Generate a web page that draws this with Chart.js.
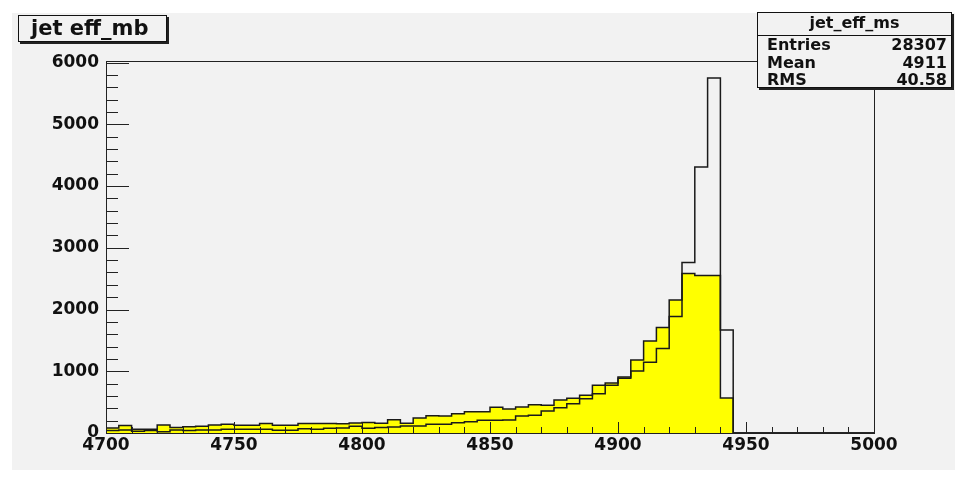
<!DOCTYPE html>
<html>
<head>
<meta charset="utf-8">
<script src="https://cdn.jsdelivr.net/npm/chart.js@4.4.0/dist/chart.umd.min.js"></script>
<style>
  body { margin: 0; background: #fff; }
  #pad { position: absolute; left: 12px; top: 13px; width: 943px; height: 457px; background: #f2f2f2; }
  #c { position: absolute; left: 0; top: 0; }
  .box { position: absolute; box-sizing: border-box; background: #f2f2f2; border: 1px solid #111;
         box-shadow: 2px 2px 0 #222; font-family: "DejaVu Sans", sans-serif; font-weight: bold; color: #111; }
  #title { left: 18px; top: 15px; width: 149px; height: 27px; font-size: 21px; line-height: 24px; padding-left: 12px; }
  #stats { left: 757px; top: 12px; width: 195px; height: 76px; font-size: 16px; }
  #stats .head { height: 22px; line-height: 19px; text-align: center; border-bottom: 1px solid #111; }
  #stats .row { height: 17.7px; line-height: 17px; padding: 0 4px 0 9px; display: flex; justify-content: space-between; }
</style>
</head>
<body>
<div id="pad"></div>
<canvas id="c" width="961" height="477"></canvas>
<div class="box" id="title">jet eff_mb</div>
<div class="box" id="stats">
  <div class="head">jet_eff_ms</div>
  <div class="row"><span>Entries</span><span>28307</span></div>
  <div class="row"><span>Mean</span><span>4911</span></div>
  <div class="row"><span>RMS</span><span>40.58</span></div>
</div>
<script>
// histogram binning, 4700..5000 in 60 bins
var binLow = 4700;
var binWidth = 5;

// yellow filled histogram (jet eff_mb)
var mbCounts = [
  80, 120, 60, 60, 130, 90, 100, 110, 130, 140,
  125, 125, 155, 125, 125, 155, 155, 155, 150, 160,
  170, 157, 216, 157, 243, 281, 275, 313, 346, 346,
  416, 389, 421, 459, 448, 535, 562, 610, 773, 810,
  908, 1183, 1491, 1707, 2155, 2585, 2550, 2550, 567, 0,
  0, 0, 0, 0, 0, 0, 0, 0, 0, 0
];

// outline histogram (jet_eff_ms)
var msCounts = [
  40, 50, 30, 40, 20, 50, 40, 50, 50, 60,
  60, 60, 60, 44, 44, 70, 60, 76, 80, 110,
  76, 90, 97, 113, 113, 140, 140, 167, 184, 205,
  205, 211, 275, 286, 356, 410, 475, 556, 637, 773,
  886, 1005, 1145, 1367, 1885, 2760, 4310, 5750, 1670, 0,
  0, 0, 0, 0, 0, 0, 0, 0, 0, 0
];

var xTicks = [4700, 4750, 4800, 4850, 4900, 4950, 5000];
var yTicks = [0, 1000, 2000, 3000, 4000, 5000, 6000];

// step points at the low edge of each bin, plus closing edge
function histPoints(counts) {
  var pts = [];
  for (var i = 0; i < counts.length; i++) {
    pts.push({x: binLow + i * binWidth, y: counts[i]});
  }
  pts.push({x: binLow + counts.length * binWidth, y: counts[counts.length - 1]});
  return pts;
}

// ROOT style frame with ticks pointing inwards
var rootFrame = {
  id: 'rootFrame',
  afterDatasetsDraw: function(chart) {
    var ctx = chart.ctx, a = chart.chartArea;
    var xs = chart.scales.x, ys = chart.scales.y;
    ctx.save();
    ctx.strokeStyle = '#222';
    ctx.lineWidth = 1;
    ctx.strokeRect(Math.round(a.left) + 0.5, Math.round(a.top) + 0.5,
                   Math.round(a.right - a.left), Math.round(a.bottom - a.top));
    ctx.beginPath();
    var xStep = (xTicks[1] - xTicks[0]) / 5;
    for (var v = xTicks[0]; v <= xTicks[xTicks.length - 1]; v += xStep) {
      var px = Math.round(xs.getPixelForValue(v)) + 0.5;
      var len = xTicks.indexOf(v) >= 0 ? 11 : 6;
      ctx.moveTo(px, a.bottom);
      ctx.lineTo(px, a.bottom - len);
    }
    var yStep = (yTicks[1] - yTicks[0]) / 5;
    for (var w = yTicks[0]; w <= ys.max; w += yStep) {
      var py = Math.round(ys.getPixelForValue(w)) + 0.5;
      var ylen = yTicks.indexOf(w) >= 0 ? 23 : 12;
      ctx.moveTo(a.left, py);
      ctx.lineTo(a.left + ylen, py);
    }
    ctx.stroke();
    ctx.restore();
  }
};

var tickFont = {family: 'DejaVu Sans', size: 17, weight: 'bold'};

var ctx = document.getElementById('c').getContext('2d');
var chart = new Chart(ctx, {
  type: 'line',
  data: {
    datasets: [{
      label: 'jet_eff_ms',
      data: histPoints(msCounts),
      stepped: 'before',
      borderColor: '#1a1a1a',
      borderWidth: 1.5,
      fill: false,
      pointRadius: 0,
      order: 0
    }, {
      label: 'jet eff_mb',
      data: histPoints(mbCounts),
      stepped: 'before',
      borderColor: '#1a1a1a',
      borderWidth: 1.5,
      backgroundColor: '#ffff00',
      fill: 'origin',
      pointRadius: 0,
      order: 1
    }]
  },
  options: {
    responsive: false,
    animation: false,
    layout: {padding: {left: 0, top: 61, right: 87, bottom: 0}},
    plugins: {legend: {display: false}, tooltip: {enabled: false}},
    scales: {
      x: {
        type: 'linear',
        min: 4700,
        max: 5000,
        grid: {display: false, drawTicks: false},
        border: {display: false},
        afterBuildTicks: function(s) { s.ticks = xTicks.map(function(v) { return {value: v}; }); },
        afterFit: function(s) { s.height = 44; },
        ticks: {
          autoSkip: false, maxRotation: 0, padding: 2, color: '#111', font: tickFont,
          callback: function(v) { return String(v); }
        }
      },
      y: {
        min: 0,
        max: 6025,
        grid: {display: false, drawTicks: false},
        border: {display: false},
        afterBuildTicks: function(s) { s.ticks = yTicks.map(function(v) { return {value: v}; }); },
        afterFit: function(s) { s.width = 106; },
        ticks: {
          padding: 7, color: '#111', font: tickFont,
          callback: function(v) { return String(v); }
        }
      }
    }
  },
  plugins: [rootFrame]
});
</script>
</body>
</html>
